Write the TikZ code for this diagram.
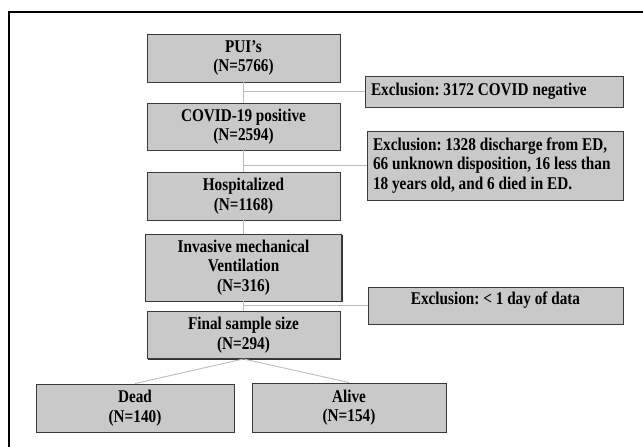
\documentclass[tikz,border=0pt]{standalone}
\usepackage{fontspec}
\setmainfont{Liberation Serif}[FakeStretch=0.85]
\usetikzlibrary{positioning,shadows}

\definecolor{boxgray}{RGB}{201,201,201}
\definecolor{edgegray}{RGB}{58,58,58}
\definecolor{linkgray}{RGB}{188,188,188}

\newcommand{\flowfont}{\fontsize{18}{19.5}\selectfont\bfseries\frenchspacing}
\newcommand{\narrowsp}{\spaceskip=3.9pt\relax}

\tikzset{
  stage/.style={draw=edgegray, line width=0.9bp, fill=boxgray, inner sep=2bp,
    minimum width=193bp, minimum height=48bp, align=center,
    font={\flowfont},
    drop shadow={shadow xshift=1.3bp, shadow yshift=-1.3bp, fill=black!80, opacity=1}},
  exclbox/.style={stage, align=left, inner xsep=6bp},
  link/.style={draw=linkgray, line width=0.9bp}
}

\begin{document}
\begin{tikzpicture}[x=1bp, y=-1bp]
\useasboundingbox (0,0) rectangle (643,447);
\draw[line width=2bp] (9,448) -- (9,12.5) -- (644,12.5);

\node[stage] (pui) at (243.5,58) {PUI's\\(N=5766)};
\node[stage, minimum height=47bp] (covid) at (243.5,126.5) {COVID-19 positive\\(N=2594)};
\node[stage] (hosp) at (243.5,196) {Hospitalized\\(N=1168)};
\node[stage, minimum width=196bp, minimum height=67bp] (imv) at (243.5,267.5) {Invasive mechanical\\Ventilation\\(N=316)};
\node[stage, minimum height=47bp] (final) at (243.5,335) {Final sample size\\(N=294)};
\node[stage, minimum width=198bp] (dead) at (135,408) {Dead\\(N=140)};
\node[stage, minimum width=194bp, minimum height=49bp] (alive) at (349,407.5) {Alive\\(N=154)};

\node[exclbox, text width=246bp, minimum height=31bp] (excla) at (494,91.5) {\narrowsp Exclusion: 3172 COVID negative};
\node[exclbox, text width=244bp, minimum height=69bp] (exclb) at (495,165.5)
  {\narrowsp Exclusion: 1328 discharge from ED,\\66 unknown disposition, 16 less than\\18 years old, and 6 died in ED.};
\node[stage, minimum width=255bp, minimum height=37bp, text depth=15bp] (exclc) at (495.5,305.5) {Exclusion: < 1 day of data};

\draw[link] (pui) -- (covid);
\draw[link] (covid) -- (hosp);
\draw[link] (hosp) -- (imv);
\draw[link] (imv) -- (final);
\draw[link] (final.south) -- (dead.north);
\draw[link] (final.south) -- (alive.north);

\coordinate (ja) at (pui.south |- excla.west);
\coordinate (jb) at (covid.south |- exclb.west);
\coordinate (jc) at (imv.south |- exclc.west);
\draw[link] (ja) -- (excla);
\draw[link] (jb) -- (exclb);
\draw[link] (jc) -- (exclc);
\end{tikzpicture}
\end{document}
